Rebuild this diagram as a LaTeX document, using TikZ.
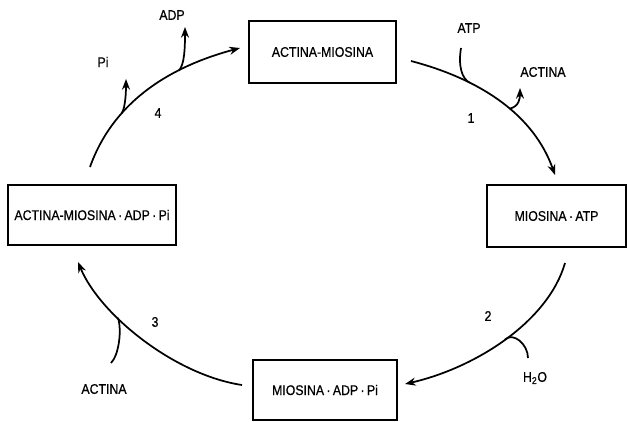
\documentclass[tikz,border=0pt]{standalone}
\usepackage{fontspec}
\setmainfont{Liberation Sans}[FakeStretch=0.88, FakeBold=0.6]
\usetikzlibrary{arrows.meta}

\begin{document}
\begin{tikzpicture}[>={Stealth[length=8pt,width=6pt]}, x=0.75pt, y=-0.75pt, every node/.style={font=\fontsize{10.5}{12}\selectfont, inner sep=1pt}, box/.style={draw, rectangle, line width=1.1pt}, flow/.style={->, line width=1.3pt}, side/.style={line width=1.3pt}]
\useasboundingbox (0,0) rectangle (627,421);
\node[box, minimum width=110.25pt, minimum height=46.5pt] (am) at (322.5,52) {ACTINA-MIOSINA};
\node[box, minimum width=104.25pt, minimum height=46.5pt] (matp) at (556.5,216) {MIOSINA\,·\,ATP};
\node[box, minimum width=108pt, minimum height=45pt] (madp) at (325,390) {MIOSINA\,·\,ADP\,·\,Pi};
\node[box, minimum width=126pt, minimum height=45pt] (amadp) at (92,215) {ACTINA-MIOSINA\,·\,ADP\,·\,Pi};
\node (atp) at (469,28) {ATP};
\node (act1) at (543,72) {ACTINA};
\node (h2o) at (535,378) {H\textsubscript{2}O};
\node (act3) at (104,389) {ACTINA};
\node (pi) at (103,62) {Pi};
\node (adp) at (172,15) {ADP};
\node (n1) at (471,118) {1};
\node (n2) at (488,316) {2};
\node (n3) at (155,322) {3};
\node (n4) at (158,113) {4};
\coordinate (s1) at (411,61);
\coordinate (e1) at (555,175);
\coordinate (s2) at (565,263);
\coordinate (e2) at (405,384);
\coordinate (s3) at (242,385);
\coordinate (e3) at (78,262);
\coordinate (s4) at (90,167);
\coordinate (e4) at (240,48);
\coordinate (atpin) at (461,48);
\coordinate (h2oin) at (528,358);
\coordinate (act3in) at (111,363);
\coordinate (act1out) at (520,88);
\coordinate (piout) at (126,79);
\coordinate (adpout) at (185,27);
\draw[flow] (s1) .. controls (483,80) and (534,116) .. (e1) coordinate[pos=0.3] (b1a) coordinate[pos=0.55] (b1b);
\draw[flow] (s2) .. controls (548,322) and (475,368) .. (e2) coordinate[pos=0.5] (b2);
\draw[flow] (s3) .. controls (175,375) and (100,315) .. (e3) coordinate[pos=0.65] (b3);
\draw[flow] (s4) .. controls (112,105) and (165,68) .. (e4) coordinate[pos=0.33] (b4a) coordinate[pos=0.7] (b4b);
\draw[side] (atpin) .. controls +(-3,18) and +(-8,-4) .. (b1a);
\draw[flow] (b1b) .. controls +(10,-2) and +(0,10) .. (act1out);
\draw[side] (h2oin) .. controls +(0,-14) and +(8,-8) .. (b2);
\draw[side] (act3in) .. controls +(8,-8) and +(4,12) .. (b3);
\draw[flow] (b4a) .. controls +(4,-6) and +(0,12) .. (piout);
\draw[flow] (b4b) .. controls +(6,-6) and +(0,20) .. (adpout);
\end{tikzpicture}
\end{document}
